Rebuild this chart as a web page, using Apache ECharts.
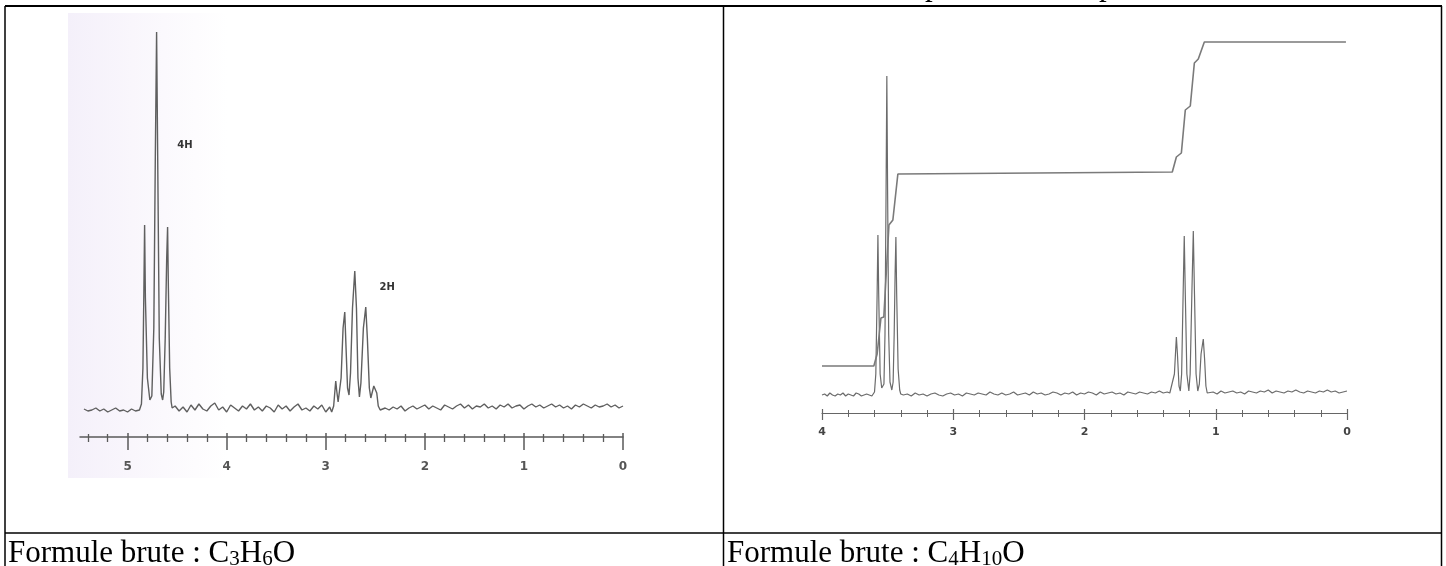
<!DOCTYPE html>
<html>
<head>
<meta charset="utf-8">
<script src="https://cdn.jsdelivr.net/npm/echarts@6/dist/echarts.min.js"></script>
<style>
html, body { margin: 0; padding: 0; background: #fff; }
#chart { width: 1446px; height: 566px; }
</style>
</head>
<body>
<div id="chart"></div>
<script>
// chemical shift ticks (ppm)
const leftTicks = [0, 1, 2, 3, 4, 5];
const rightTicks = [0, 1, 2, 3, 4];

// spectrum 1 (C3H6O): baseline noise, sampled every 0.04 ppm
const leftNoiseA = [-1, -3, -2, 0, -3, -1, -4, -2, 0, -3, -2, -4, -1, -3, -2];
const leftNoiseB = [2, -3, 1, -4, 3, -2, 4, -1, -3, 2, 5, -2, 1, -4, 3, 0, -3, 2, -1, 4,
	-2, 1, -3, 2, 0, -4, 3, -1, 2, -3, 1, 4, -2, 0, -3, 2, -1, 3, -4, 1];
const leftNoiseC = [0, -2, 1, -1, 2, -3, 0, 2, -1, 1, 3, -1, 2, 0, -2, 3, 1, -1, 2, 4,
	0, 3, -1, 2, 1, 4, 0, 2, -1, 3, 1, 4, 0, 2, 3, -1, 2, 4, 1, 3,
	0, 2, 4, 1, 3, 0, 2, -1, 3, 1, 4, 2, 0, 3, 1, 2, 4, 1, 3, 0, 2];
// triplet at 4.7 ppm (4H)
const leftTriplet = [[4.88, -1], [4.86, 4], [4.845, 40], [4.835, 120], [4.828, 183], [4.82, 110],
	[4.80, 30], [4.775, 8], [4.765, 6], [4.755, 12], [4.735, 80], [4.72, 250], [4.707, 376],
	[4.695, 240], [4.68, 70], [4.66, 14], [4.646, 8], [4.635, 16], [4.62, 70], [4.605, 150],
	[4.596, 181], [4.588, 120], [4.575, 40], [4.56, 6], [4.55, 0]];
// quintet at 2.7 ppm (2H)
const leftQuintet = [[2.94, -4], [2.92, 2], [2.905, 20], [2.899, 27], [2.89, 18], [2.875, 6],
	[2.86, 5], [2.845, 30], [2.825, 80], [2.808, 96], [2.795, 60], [2.78, 20], [2.765, 13],
	[2.75, 35], [2.73, 100], [2.707, 137], [2.69, 100], [2.675, 30], [2.66, 11], [2.645, 25],
	[2.62, 80], [2.596, 101], [2.58, 70], [2.56, 20], [2.545, 10], [2.53, 16], [2.515, 22],
	[2.495, 23], [2.485, 15], [2.47, 2], [2.45, -2]];

// spectrum 2 (C4H10O)
const rightNoiseA = [-1, 0, -2, 1, -1, -2, 0, -1, 1, -2, 0, -1, -2, 1, 0, -2, -1, 0, -1, -2];
const rightNoiseB = [-1, 0, -2, 1, -1, 0, -2, 0, 1, -1, -2, 0, 1, -1, 0, -2, 1, 0, -1, 1,
	0, -1, 2, 0, -1, 1, -1, 0, 2, -1, 0, 1, -1, 2, 0, 1, -1, 0, 2, 1,
	-1, 1, 0, 2, -1, 1, 0, 2, 1, -1, 2, 0, 1, 2, 0, 1, -1, 2, 1, 0,
	2, 1, 0, 2, 1, 3, 1, 2];
const rightNoiseC = [1, 2, 0, 3, 1, 2, 3, 1, 2, 0, 3, 2, 1, 3, 2, 4, 1, 3, 2, 1,
	3, 2, 4, 2, 1, 3, 2, 1, 3, 2, 4, 2, 3, 1, 2, 3];
const rightQuartet = [[3.61, -1], [3.60, 2], [3.59, 20], [3.58, 100], [3.574, 159], [3.568, 100],
	[3.557, 20], [3.545, 6], [3.536, 4], [3.528, 10], [3.52, 60], [3.512, 200], [3.506, 318],
	[3.50, 200], [3.492, 60], [3.482, 12], [3.468, 4], [3.458, 12], [3.45, 60], [3.443, 120],
	[3.437, 157], [3.431, 100], [3.42, 25], [3.408, 4], [3.40, 0]];
const rightTriplet = [[1.35, 1], [1.335, 3], [1.315, 20], [1.305, 45], [1.300, 57], [1.292, 40],
	[1.28, 8], [1.27, 3], [1.26, 20], [1.25, 90], [1.24, 158], [1.232, 100], [1.22, 20],
	[1.205, 3], [1.195, 20], [1.182, 100], [1.171, 163], [1.162, 100], [1.15, 20], [1.137, 3],
	[1.125, 10], [1.112, 40], [1.095, 55], [1.085, 35], [1.075, 8], [1.065, 1]];
// integration curve
const rightIntegral = [[4.0, 28], [3.605, 28], [3.58, 40], [3.551, 76], [3.529, 77], [3.49, 169],
	[3.46, 174], [3.422, 220], [3.414, 221], [1.331, 222], [1.30, 237], [1.262, 241],
	[1.232, 284], [1.194, 288], [1.163, 331], [1.133, 335], [1.087, 352], [0.008, 352]];

const PAGE_W = 1446, PAGE_H = 566;

function sampled(start, step, values) {
	return values.map((v, i) => [+(start + i * step).toFixed(3), v]);
}

const leftSpectrum = [
	...sampled(5.44, -0.04, leftNoiseA), ...leftTriplet,
	...sampled(4.52, -0.04, leftNoiseB), ...leftQuintet,
	...sampled(2.40, -0.04, leftNoiseC),
];
const rightSpectrum = [
	...sampled(4.00, -0.02, rightNoiseA), ...rightQuartet,
	...sampled(3.38, -0.03, rightNoiseB), ...rightTriplet,
	...sampled(1.05, -0.03, rightNoiseC),
];

// outer axis (line, outside ticks, labels) + a twin that draws the inside half of the ticks
function ppmAxes(gridIndex, max, ticks, s) {
	const base = {
		type: "value", gridIndex, position: "bottom", min: 0, max, interval: 1,
		inverse: true, splitLine: { show: false },
	};
	return [
		{
			...base,
			axisLine: { show: true, onZero: false, lineStyle: { color: s.color, width: s.width } },
			axisTick: { show: true, customValues: ticks, length: s.major, lineStyle: { color: s.color, width: s.width } },
			minorTick: { show: true, splitNumber: 5, length: s.minor, lineStyle: { color: s.color, width: s.width - 0.2 } },
			axisLabel: {
				customValues: ticks, margin: s.margin, fontSize: s.fontSize, fontWeight: "bold",
				color: s.labelColor, fontFamily: "DejaVu Sans",
				formatter: (v) => (Number.isInteger(v) ? String(v) : ""),
			},
		},
		{
			...base,
			axisLine: { show: false, onZero: false },
			axisTick: { show: true, inside: true, customValues: ticks, length: 4, lineStyle: { color: s.color, width: s.width } },
			minorTick: { show: true, splitNumber: 5, length: 3, lineStyle: { color: s.color, width: s.width - 0.2 } },
			axisLabel: { show: false },
		},
	];
}

const chart = echarts.init(document.getElementById("chart"));
const serif = "Liberation Serif";
const lineColor = "#000";

function caption(x, sub1, sub2) {
	return {
		type: "text", x, y: 554, z: 20,
		style: {
			text: `{a|Formule brute : C}{s|${sub1}}{a|H}{s|${sub2}}{a|O}`,
			verticalAlign: "middle",
			rich: {
				a: { fontFamily: serif, fontSize: 31, lineHeight: 31, fill: "#000" },
				s: { fontFamily: serif, fontSize: 21, lineHeight: 17, verticalAlign: "bottom", fill: "#000" },
			},
		},
	};
}

chart.setOption({
	animation: false,
	backgroundColor: "#fff",
	grid: [
		{ left: 80, right: PAGE_W - 623, top: 0, bottom: PAGE_H - 437 },
		{ left: 822, right: PAGE_W - 1347, top: 0, bottom: PAGE_H - 413 },
	],
	xAxis: [
		...ppmAxes(0, 5.48, leftTicks, { color: "#5a5a5a", width: 1.5, major: 13, minor: 5, margin: 24, fontSize: 12, labelColor: "#555" }),
		...ppmAxes(1, 4, rightTicks, { color: "#666", width: 1.2, major: 7, minor: 4, margin: 14, fontSize: 11, labelColor: "#444" }),
	],
	yAxis: [
		{ type: "value", gridIndex: 0, min: -29, max: 408, show: false },
		{ type: "value", gridIndex: 1, min: -19, max: 394, show: false },
	],
	series: [
		{
			type: "line", xAxisIndex: 0, yAxisIndex: 0, data: leftSpectrum,
			showSymbol: false, clip: false, silent: true,
			lineStyle: { color: "#5f5f5f", width: 1.4 },
			markPoint: {
				symbol: "circle", symbolSize: 1, itemStyle: { color: "transparent" },
				label: { show: true, position: "inside", color: "#333", fontSize: 10, fontWeight: "bold", fontFamily: "DejaVu Sans" },
				data: [
					{ coord: [4.42, 263], value: "4H", label: { formatter: "4H" } },
					{ coord: [2.38, 121], value: "2H", label: { formatter: "2H" } },
				],
			},
		},
		{
			type: "line", xAxisIndex: 2, yAxisIndex: 1, data: rightSpectrum,
			showSymbol: false, clip: false, silent: true,
			lineStyle: { color: "#6b6b6b", width: 1.2 },
		},
		{
			type: "line", xAxisIndex: 2, yAxisIndex: 1, data: rightIntegral,
			showSymbol: false, clip: false, silent: true,
			lineStyle: { color: "#7a7a7a", width: 1.6 },
		},
	],
	graphic: [
		{
			type: "rect", z: -10, silent: true,
			shape: { x: 68, y: 13, width: 640, height: 465 },
			style: {
				fill: new echarts.graphic.LinearGradient(0, 0, 1, 0, [
					{ offset: 0, color: "#f4f0fa" },
					{ offset: 0.1, color: "#f9f6fc" },
					{ offset: 0.25, color: "#ffffff" },
					{ offset: 1, color: "#ffffff" },
				]),
			},
		},
		// table rules
		{ type: "line", z: 20, shape: { x1: 5, y1: 6, x2: 1442, y2: 6 }, style: { stroke: lineColor, lineWidth: 2 } },
		{ type: "line", z: 20, shape: { x1: 5, y1: 533, x2: 1442, y2: 533 }, style: { stroke: lineColor, lineWidth: 1.5 } },
		{ type: "line", z: 20, shape: { x1: 5, y1: 6, x2: 5, y2: 566 }, style: { stroke: lineColor, lineWidth: 1.5 } },
		{ type: "line", z: 20, shape: { x1: 723.5, y1: 6, x2: 723.5, y2: 566 }, style: { stroke: lineColor, lineWidth: 1.5 } },
		{ type: "line", z: 20, shape: { x1: 1441.5, y1: 6, x2: 1441.5, y2: 566 }, style: { stroke: lineColor, lineWidth: 1.5 } },
		// descenders of the line of text above, cut by the page edge
		{ type: "text", z: 20, x: 925, y: -13, style: { text: "p", fontFamily: serif, fontSize: 31, fill: "#000", verticalAlign: "middle" } },
		{ type: "text", z: 20, x: 1099, y: -13, style: { text: "p", fontFamily: serif, fontSize: 31, fill: "#000", verticalAlign: "middle" } },
		caption(8, "3", "6"),
		caption(727, "4", "10"),
	],
});
</script>
</body>
</html>
